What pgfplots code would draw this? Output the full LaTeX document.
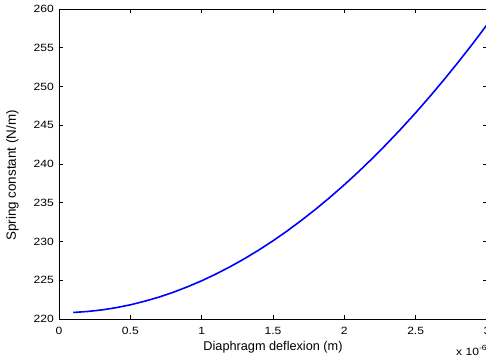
\documentclass[border=0pt]{standalone}
\usepackage{pgfplots}
\pgfplotsset{compat=1.18}
\usepackage{fontspec}
\setmainfont{Liberation Sans}
\newfontfamily\tickfont{Liberation Sans}[FakeStretch=1.15]
\begin{document}
\begin{tikzpicture}[x=1pt,y=1pt]
\path[use as bounding box] (0,0) rectangle (486,358);
\begin{axis}[
  at={(59pt,39pt)}, anchor=south west,
  scale only axis, width=428pt, height=310pt,
  xmin=0, xmax=3, ymin=220, ymax=260,
  xtick={0,0.5,1,1.5,2,2.5,3},
  xticklabels={0,0.5,1,1.5,2,2.5,3},
  ytick={220,225,230,235,240,245,250,255,260},
  tick align=inside, major tick length=4pt,
  tick style={black, line width=0.6pt},
  axis line style={line width=0.7pt},
  /pgf/number format/assume math mode=true,
  ticklabel style={font=\tickfont\fontsize{10.5}{12}\selectfont, inner sep=0pt},
  xticklabel style={anchor=base, yshift=-15pt},
  yticklabel style={anchor=east, xshift=-5pt},
  xlabel={Diaphragm deflexion (m)},
  ylabel={Spring constant (N/m)},
  xlabel style={font=\fontsize{12.7}{14}\selectfont, at={(axis description cs:0.5,0)}, anchor=base, yshift=-31.5pt, inner sep=0pt},
  ylabel style={font=\fontsize{13.4}{15}\selectfont, at={(axis description cs:-0.1005,0.463)}, anchor=base, inner sep=0pt},
  clip=false,
]
\addplot[blue, line width=1.6pt] coordinates {
(0.1,220.84) (0.2,220.97) (0.3,221.17) (0.4,221.46) (0.5,221.83)
(0.6,222.29) (0.7,222.82) (0.8,223.44) (0.9,224.15) (1.0,224.93)
(1.1,225.80) (1.2,226.75) (1.3,227.78) (1.4,228.89) (1.5,230.09)
(1.6,231.37) (1.7,232.74) (1.8,234.18) (1.9,235.71) (2.0,237.32)
(2.1,239.01) (2.2,240.79) (2.3,242.65) (2.4,244.59) (2.5,246.61)
(2.6,248.72) (2.7,250.91) (2.8,253.18) (2.9,255.53) (3.0,257.97)
};
\end{axis}
\node[anchor=base west, inner sep=0pt, font=\tickfont\fontsize{10.5}{12}\selectfont] at (456,3) {x 10\raisebox{0.75ex}{\fontsize{7.5}{8}\selectfont -6}};
\end{tikzpicture}
\end{document}
